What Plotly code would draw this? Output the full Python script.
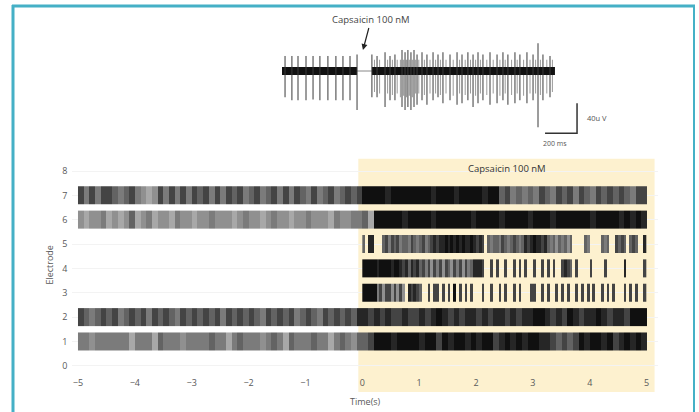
import plotly.graph_objects as go

W, H = 699, 412
FONT = "Open Sans"
TXT = "#595959"

# ---------------- raster data (darkness level 0-9 per time bin; 0 = no spikes) -------------
ELECTRODES_FULL = [1, 2, 6, 7]          # recorded over -5..5 s, 0.1-s bins
ELECTRODES_POST = [3, 4, 5]             # active only after capsaicin, 0.05-s bins
T_START_FULL, BIN_FULL = -5.0, 0.1
T_START_POST, BIN_POST = 0.0, 0.05

ROW1 = [5,5,4,5,5,5,5,5,5,3, 5,5,5,3,6,5,5,5,4,5, 5,5,5,6,5,5,3,5,6,5,
        5,5,4,5,6,5,3,6,5,5, 5,6,5,5,3,5,6,5,4,6,
        6,7,9,9,9,8,9,9,9,9, 8,9,9,7,9,8,9,9,8,9, 8,9,9,7,8,9,8,9,8,9,
        9,8,8,7,6,7,6,7,9,8, 9,9,8,9,7,8,9,8,9,8]
ROW2 = [7,6,5,6,7,6,7,5,6,7, 6,7,5,7,6,7,6,5,7,6, 7,6,7,6,7,5,7,6,7,6,
        7,6,5,7,6,7,6,7,5,6, 7,6,5,7,6,7,6,7,6,8,
        8,7,8,7,8,7,7,8,7,7, 8,7,8,9,8,7,8,7,8,8, 7,8,7,8,8,7,8,7,8,8,
        9,9,8,7,8,7,9,8,7,8, 8,9,8,7,8,8,7,9,9,9]
ROW6 = [4,3,4,4,5,3,4,3,4,6, 3,4,5,3,4,4,3,5,4,4, 3,4,4,5,4,4,4,3,4,5,
        4,4,3,4,5,4,4,3,4,4, 5,4,4,4,3,5,4,4,5,5,
        6,3,9,9,9,9,9,8,9,9, 9,9,8,9,9,9,9,9,9,8, 9,9,9,9,8,9,9,9,9,8,
        9,9,9,8,9,9,9,9,9,9, 8,9,9,9,9,8,9,8,9,8]
ROW7 = [7,5,7,5,7,7,6,5,6,7, 5,4,3,4,7,5,7,5,7,5, 7,6,7,5,7,5,7,6,7,5,
        6,7,5,6,7,5,7,5,7,6, 5,7,5,6,7,5,6,7,6,7,
        9,9,9,9,8,9,9,9,9,9, 9,9,8,9,9,9,8,9,9,9, 9,8,9,9,6,7,5,6,5,6,
        5,7,6,5,7,6,7,5,7,6, 5,7,6,7,6,7,6,5,7,7]
ROW3 = [9,9,9,9,9,5,7,4,7,7, 4,7,4,7,4,0,8,7,8,7, 6,0,0,7,0,7,7,0,7,0,
        7,0,9,0,7,0,7,0,7,0, 0,0,7,0,0,7,0,0,7,0, 7,0,0,7,0,7,0,0,0,7,
        7,0,0,7,0,7,0,0,7,0, 7,0,7,0,0,7,0,7,0,7, 0,7,0,0,7,0,7,0,7,0,
        0,0,7,0,7,0,7,0,0,7]
ROW4 = [9,9,9,9,9,8,9,9,9,9, 8,9,9,8,7,8,6,8,7,8, 6,7,5,7,4,7,5,7,4,7,
        6,4,7,5,7,4,7,5,6,8, 8,8,7,0,0,7,0,7,0,0, 7,0,0,7,0,7,0,7,0,0,
        7,0,0,7,0,7,0,7,0,0, 7,8,7,6,0,7,0,0,0,0, 7,0,0,0,0,7,0,0,0,0,
        0,0,8,0,0,0,0,0,0,7]
ROW5 = [6,0,8,8,0,0,0,6,7,5, 7,6,7,5,6,6,5,7,6,5, 6,7,5,6,7,8,7,8,8,9,
        8,9,8,9,8,9,8,8,9,8, 7,8,7,0,6,5,6,6,5,7, 6,5,6,7,6,5,6,8,7,8,
        9,8,8,7,8,6,5,6,4,6, 5,6,4,6,0,0,0,0,6,5, 0,0,0,0,6,5,6,0,0,7,
        6,7,6,0,6,7,6,0,0,8]
ROWS = {1: ROW1, 2: ROW2, 3: ROW3, 4: ROW4, 5: ROW5, 6: ROW6, 7: ROW7}

X_TICKS = [-5, -4, -3, -2, -1, 0, 1, 2, 3, 4, 5]
Y_TICKS = [0, 1, 2, 3, 4, 5, 6, 7, 8]
STIM_START, STIM_END = 0, 5
STIM_LABEL = "Capsaicin 100 nM"

# ---------------- inset trace data (ms, µV) ----------------
PRE_SPIKE_MS = [19, 62, 100, 150, 194, 237, 287, 337, 381, 425, 469]
PRE_DOWN_UV = [35, 39, 39, 39, 38, 39, 39, 39, 39, 39, 52]
PRE_UP_UV = [20, 20, 20, 20, 20, 20, 20, 20, 20, 20, 22]
POST_SPIKE_MS = [562, 594, 644, 675, 706, 750, 769, 787, 806, 825, 844, 875, 906, 944,
                 975, 1006, 1050, 1094, 1125, 1162, 1194, 1225, 1256, 1300, 1344, 1381,
                 1412, 1456, 1487, 1531, 1569, 1600, 1631, 1675]
POST_DOWN_UV = [35, 35, 48, 39, 39, 48, 52, 48, 52, 48, 45, 39, 45, 39,
                35, 43, 39, 45, 43, 39, 48, 43, 39, 45, 43, 39,
                45, 43, 39, 43, 39, 75, 39, 35]
POST_UP_UV = [22, 20, 25, 20, 22, 28, 25, 28, 25, 28, 22, 25, 22, 25,
              22, 25, 22, 25, 22, 25, 22, 25, 22, 25, 22, 25,
              22, 25, 22, 25, 22, 37, 22, 20]
MINOR_SPIKE_MS = [578, 610, 660, 690, 720, 740, 760, 778, 796, 815, 835, 855, 890, 925,
                  960, 990, 1025, 1070, 1110, 1145, 1178, 1210, 1240, 1280, 1320, 1362,
                  1395, 1435, 1470, 1510, 1550, 1585, 1615, 1655, 1690]
MINOR_DOWN_UV = [28, 30, 30, 32, 30, 35, 33, 35, 33, 35, 30, 30, 32, 30,
                 30, 32, 30, 33, 30, 32, 30, 33, 30, 32, 30, 33,
                 30, 32, 30, 33, 30, 30, 32, 30, 28]
BASELINE_MS = [[0, 469], [562, 1706]]
GAP_MS = [469, 562]
SCALE_MS, SCALE_UV = 200, 40
INSET_LABEL = "Capsaicin 100 nM"
INSET_ARROW_MS = 506

# ---------------- layout geometry ----------------
MAIN_XR = [-5.1, 5.2]
MAIN_YR = [-0.3, 8.6]
MAIN_XD = [72.3 / W, 658.0 / W]
MAIN_YD = [1 - 373.3 / H, 1 - 156.4 / H]
INS_XR = [-75, 2112.5]
INS_YR = [-105.3, 81.3]
INS_XD = [270 / W, 620 / W]
INS_YD = [1 - 150 / H, 1 - 10 / H]
ROW_HALF = 0.375


def px_x(v):
    return MAIN_XD[0] + (v - MAIN_XR[0]) / (MAIN_XR[1] - MAIN_XR[0]) * (MAIN_XD[1] - MAIN_XD[0])


def px_y(v):
    return MAIN_YD[0] + (v - MAIN_YR[0]) / (MAIN_YR[1] - MAIN_YR[0]) * (MAIN_YD[1] - MAIN_YD[0])


fig = go.Figure()

CS = [[0, "#ffffff"], [2 / 9, "#c4c4c4"], [3 / 9, "#a8a8a8"], [4 / 9, "#909090"],
      [5 / 9, "#7b7b7b"], [6 / 9, "#636363"], [7 / 9, "#444444"], [8 / 9, "#262626"],
      [1, "#101010"]]
for e, vals in ROWS.items():
    if e in ELECTRODES_FULL:
        t0, b = T_START_FULL, BIN_FULL
    else:
        t0, b = T_START_POST, BIN_POST
    xe = [round(t0 + i * b, 4) for i in range(len(vals) + 1)]
    z = [[v if v > 0 else None for v in vals]]
    fig.add_trace(go.Heatmap(
        x=xe, y=[e - ROW_HALF, e + ROW_HALF], z=z, zmin=0, zmax=9,
        colorscale=CS, showscale=False, hoverinfo="skip",
        xaxis="x", yaxis="y"))


def segs(times, up, down):
    xs, ys = [], []
    for t, u, d in zip(times, up, down):
        xs += [t, t, None]
        ys += [u, -d, None]
    return xs, ys


# inset: minor spikes, baseline, major spikes
mx, my = segs(MINOR_SPIKE_MS, [15] * len(MINOR_SPIKE_MS), MINOR_DOWN_UV)
fig.add_trace(go.Scatter(x=mx, y=my, mode="lines", line=dict(color="#9a9a9a", width=1),
                         xaxis="x2", yaxis="y2", hoverinfo="skip", showlegend=False))
fig.add_trace(go.Scatter(x=GAP_MS, y=[0, 0], mode="lines", line=dict(color="#888", width=1),
                         xaxis="x2", yaxis="y2", hoverinfo="skip", showlegend=False))
bx, by = [], []
for a, b in BASELINE_MS:
    bx += [a, b, None]
    by += [0, 0, None]
fig.add_trace(go.Scatter(x=bx, y=by, mode="lines", line=dict(color="#111", width=8),
                         xaxis="x2", yaxis="y2", hoverinfo="skip", showlegend=False))
sx, sy = segs(PRE_SPIKE_MS + POST_SPIKE_MS, PRE_UP_UV + POST_UP_UV, PRE_DOWN_UV + POST_DOWN_UV)
fig.add_trace(go.Scatter(x=sx, y=sy, mode="lines", line=dict(color="#3a3a3a", width=1),
                         xaxis="x2", yaxis="y2", hoverinfo="skip", showlegend=False))

# scale bars
SB_X, SB_Y = 1844, -83
fig.add_trace(go.Scatter(x=[SB_X - SCALE_MS, SB_X, SB_X], y=[SB_Y, SB_Y, SB_Y + SCALE_UV],
                         mode="lines", line=dict(color="#333", width=1.5),
                         xaxis="x2", yaxis="y2", hoverinfo="skip", showlegend=False))

shapes = [
    # stimulation shading
    dict(type="rect", xref="paper", yref="paper", layer="below",
         x0=px_x(STIM_START - 0.07), x1=px_x(STIM_END + 0.14),
         y0=1 - 392 / H, y1=px_y(8.5), fillcolor="#fdf1cf", line=dict(width=0)),
    # teal frame
    dict(type="line", xref="paper", yref="paper", x0=13 / W, x1=13 / W, y0=0, y1=1 - 5 / H,
         line=dict(color="#45b0c6", width=3)),
    dict(type="line", xref="paper", yref="paper", x0=12 / W, x1=695 / W, y0=1 - 6 / H, y1=1 - 6 / H,
         line=dict(color="#45b0c6", width=3)),
    dict(type="line", xref="paper", yref="paper", x0=694 / W, x1=694 / W, y0=0, y1=1 - 5 / H,
         line=dict(color="#45b0c6", width=2)),
]

annotations = [
    dict(x=2.55, y=8.12, xref="x", yref="y", text=STIM_LABEL, showarrow=False,
         font=dict(family=FONT, size=9.5, color="#333")),
    dict(x=INSET_ARROW_MS, y=28, xref="x2", yref="y2", text=INSET_LABEL, showarrow=True,
         ax=8, ay=-30, arrowhead=2, arrowsize=1, arrowwidth=1.2, arrowcolor="#222",
         standoff=0, font=dict(family=FONT, size=9.5, color="#444")),
    dict(x=SB_X, y=SB_Y + SCALE_UV / 2, xref="x2", yref="y2", text="40u V", showarrow=False,
         xanchor="left", xshift=8, font=dict(family=FONT, size=7.5, color="#555")),
    dict(x=SB_X - SCALE_MS / 2, y=SB_Y, xref="x2", yref="y2", text="200 ms", showarrow=False,
         yshift=-10, xshift=-6, font=dict(family=FONT, size=7, color="#555")),
]

fig.update_layout(
    width=W, height=H, margin=dict(l=0, r=0, t=0, b=0),
    paper_bgcolor="white", plot_bgcolor="rgba(0,0,0,0)",
    font=dict(family=FONT, size=9, color=TXT),
    showlegend=False, shapes=shapes, annotations=annotations,
    xaxis=dict(domain=MAIN_XD, range=MAIN_XR, tickvals=X_TICKS, ticks="", showline=False,
               zeroline=False, showgrid=False, tickfont=dict(size=9, color=TXT),
               ticklabelstandoff=3,
               title=dict(text="Time(s)", font=dict(size=9, color=TXT), standoff=10),
               anchor="y"),
    yaxis=dict(domain=MAIN_YD, range=MAIN_YR, tickvals=Y_TICKS, ticks="", showline=False,
               zeroline=False, showgrid=True, gridcolor="#f3f3f3", tickfont=dict(size=9, color=TXT),
               ticklabelstandoff=4,
               title=dict(text="Electrode", font=dict(size=9, color=TXT), standoff=6),
               anchor="x"),
    xaxis2=dict(domain=INS_XD, range=INS_XR, visible=False, anchor="y2"),
    yaxis2=dict(domain=INS_YD, range=INS_YR, visible=False, anchor="x2"),
)

fig.write_html("out.html", config={"displayModeBar": False},
               post_script="document.body.style.margin='0';document.body.style.overflow='hidden';")
